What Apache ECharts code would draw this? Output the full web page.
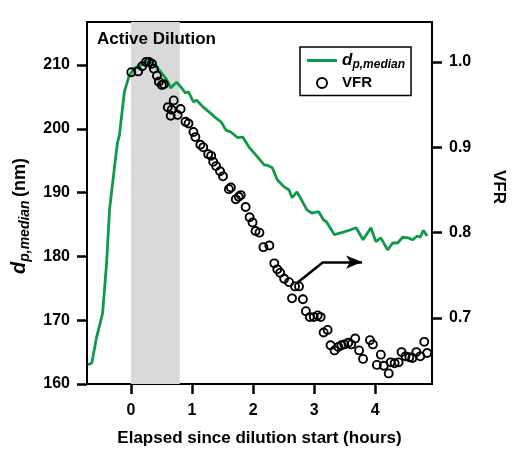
<!DOCTYPE html>
<html>
<head>
<meta charset="utf-8">
<script src="https://cdn.jsdelivr.net/npm/echarts@6/dist/echarts.min.js"></script>
<style>html,body{margin:0;padding:0;background:#fff}#c{width:515px;height:458px}</style>
</head>
<body>
<div id="c"></div>
<script>
// ---- data ----
var dpTime = [-0.705,-0.641,-0.561,-0.464,-0.399,-0.351,-0.270,-0.221,-0.189,-0.108,-0.027,0.053,0.166,0.247,0.328,0.490,0.586,0.651,0.700,0.748,0.813,0.893,0.942,1.023,1.071,1.184,1.297,1.378,1.475,1.555,1.636,1.749,1.830,1.943,2.072,2.185,2.234,2.315,2.396,2.509,2.590,2.638,2.719,2.768,2.881,2.961,3.074,3.155,3.203,3.332,3.478,3.575,3.688,3.801,3.930,4.011,4.092,4.205,4.286,4.367,4.448,4.545,4.609,4.690,4.738,4.787,4.851];
var dpMedian = [163.0,163.3,167.4,171.1,179.0,187.3,194.0,197.8,199.0,205.8,208.4,209.5,210.0,210.5,210.5,208.9,207.7,206.4,206.9,207.3,206.6,205.6,205.8,204.2,204.5,203.4,202.5,201.8,201.1,199.8,199.5,198.6,198.7,197.0,195.6,194.3,194.3,193.9,192.0,190.9,190.4,189.2,190.1,189.3,187.3,186.8,187.0,185.7,185.4,183.4,183.8,184.1,184.5,182.6,184.5,182.3,182.9,181.0,182.1,182.1,183.0,182.9,182.6,183.2,183.0,184.1,183.2];
var vfrTime = [0.005,0.118,0.183,0.247,0.296,0.344,0.376,0.425,0.457,0.506,0.538,0.603,0.651,0.667,0.700,0.764,0.813,0.893,0.942,1.023,1.055,1.136,1.184,1.265,1.313,1.346,1.394,1.459,1.507,1.604,1.636,1.717,1.765,1.798,1.878,1.943,1.991,2.040,2.104,2.169,2.266,2.347,2.396,2.444,2.509,2.590,2.638,2.687,2.752,2.816,2.865,2.929,2.994,3.058,3.107,3.155,3.220,3.268,3.333,3.397,3.446,3.494,3.559,3.607,3.672,3.736,3.801,3.914,3.962,4.027,4.092,4.140,4.221,4.253,4.318,4.383,4.431,4.496,4.560,4.609,4.674,4.738,4.803,4.851];
var vfr = [0.988,0.989,0.995,1.000,1.000,0.998,0.992,0.984,0.977,0.973,0.974,0.947,0.937,0.944,0.955,0.938,0.945,0.930,0.928,0.918,0.912,0.903,0.900,0.892,0.890,0.883,0.878,0.872,0.866,0.851,0.853,0.839,0.842,0.844,0.830,0.818,0.812,0.802,0.800,0.783,0.785,0.764,0.757,0.753,0.746,0.742,0.723,0.737,0.737,0.722,0.708,0.701,0.701,0.703,0.701,0.683,0.686,0.668,0.662,0.666,0.668,0.669,0.671,0.669,0.676,0.662,0.652,0.674,0.669,0.645,0.657,0.644,0.635,0.648,0.647,0.648,0.660,0.655,0.654,0.653,0.660,0.655,0.672,0.659];
var xTicks = [0,1,2,3,4];
var leftTicks = [160,170,180,190,200,210];
var rightTicks = [0.7,0.8,0.9,1.0];
var dilutionPeriod = [0, 0.8];
var arrowPath = [[2.72,0.741],[3.15,0.7655],[3.785,0.7655]];

// ---- chart ----
var FONT = '"Liberation Sans", Arial, sans-serif';
var dpData = dpTime.map(function(t,i){return [t, dpMedian[i]];});
var vfrData = vfrTime.map(function(t,i){return [t, vfr[i]];});
var chart = echarts.init(document.getElementById('c'), null, {renderer:'canvas'});
chart.setOption({
  animation:false,
  backgroundColor:'#fff',
  textStyle:{fontFamily:FONT},
  grid:{left:87, right:78, top:22, bottom:74, show:true, borderColor:'#000', borderWidth:2, backgroundColor:'transparent'},
  xAxis:{
    type:'value', min:-0.72, max:4.93,
    axisLine:{show:true, onZero:false, lineStyle:{color:'#000', width:2}},
    splitLine:{show:false},
    axisTick:{show:true, inside:false, length:10, lineStyle:{color:'#000', width:2.5}, customValues:xTicks},
    axisLabel:{show:true, customValues:xTicks, color:'#000', fontSize:16, fontWeight:'bold', fontFamily:FONT, margin:19},
    name:'Elapsed since dilution start (hours)', nameLocation:'middle', nameGap:46,
    nameTextStyle:{color:'#000', fontSize:17, fontWeight:'bold', fontFamily:FONT}
  },
  yAxis:[{
    type:'value', position:'left', min:160, max:216.74,
    axisLine:{show:true, onZero:false, lineStyle:{color:'#000', width:2}},
    splitLine:{show:false},
    axisTick:{show:true, inside:false, length:10, lineStyle:{color:'#000', width:2.5}, customValues:leftTicks},
    axisLabel:{show:true, customValues:leftTicks, color:'#000', fontSize:16, fontWeight:'bold', fontFamily:FONT, margin:17},
    name:'{d|d}{s|p,median} {n|(nm)}', nameLocation:'middle', nameGap:54, nameRotate:90,
    nameTextStyle:{color:'#000', padding:[0,26,0,0], rich:{
      d:{fontSize:20, fontStyle:'italic', fontWeight:'bold', fontFamily:FONT, color:'#000'},
      s:{fontSize:14, fontStyle:'italic', fontWeight:'bold', fontFamily:FONT, color:'#000', padding:[11,0,0,0]},
      n:{fontSize:18, fontWeight:'bold', fontFamily:FONT, color:'#000'}
    }}
  },{
    type:'value', position:'right', min:0.6226, max:1.0469,
    axisLine:{show:true, onZero:false, lineStyle:{color:'#000', width:2}},
    splitLine:{show:false},
    axisTick:{show:true, inside:false, length:10, lineStyle:{color:'#000', width:2.5}, customValues:rightTicks},
    axisLabel:{show:true, customValues:rightTicks, color:'#000', fontSize:16, fontWeight:'bold', fontFamily:FONT, margin:17,
      formatter:function(v){return v.toFixed(1);}},
    name:'VFR', nameLocation:'middle', nameGap:58, nameRotate:-90,
    nameTextStyle:{color:'#000', fontSize:17, fontWeight:'bold', fontFamily:FONT, padding:[0,32,0,0]}
  }],
  legend:{
    orient:'vertical', left:300, top:47, padding:[5,6,5,7], itemGap:5,
    borderColor:'#000', borderWidth:1.5, backgroundColor:'#fff',
    itemWidth:30, itemHeight:10,
    data:[{name:'dp', icon:'path://M0,0 L30,0 L30,3 L0,3 Z'},{name:'VFR'}],
    formatter:function(n){return n==='dp' ? '{d|d}{s|p,median}' : '{v|VFR}';},
    textStyle:{color:'#000', rich:{
      d:{fontSize:17, fontStyle:'italic', fontWeight:'bold', fontFamily:FONT, color:'#000'},
      s:{fontSize:12, fontStyle:'italic', fontWeight:'bold', fontFamily:FONT, color:'#000', padding:[8,0,0,0]},
      v:{fontSize:15, fontWeight:'bold', fontFamily:FONT, color:'#000'}
    }}
  },
  graphic:[{
    type:'text', left:97, top:31, z:10,
    style:{text:'Active Dilution', fill:'#000', font:'bold 17px "Liberation Sans", Arial, sans-serif'}
  }],
  series:[{
    name:'dp', type:'line', yAxisIndex:0, data:dpData, symbol:'none', showSymbol:false,
    lineStyle:{color:'#0f9a48', width:2.8}, itemStyle:{color:'#0f9a48'}, z:3,
    markArea:{silent:true, itemStyle:{color:'#d9d9d9'}, data:[[{xAxis:dilutionPeriod[0]},{xAxis:dilutionPeriod[1]}]]}
  },{
    name:'VFR', type:'scatter', yAxisIndex:1, data:vfrData, symbol:'circle', symbolSize:8,
    itemStyle:{color:'rgba(255,255,255,0)', borderColor:'#000', borderWidth:1.9, opacity:1}, z:4,
    markLine:{silent:true, symbol:['none','none'], label:{show:false},
      lineStyle:{color:'#000', width:2.5, type:'solid'},
      data:[
        [{coord:arrowPath[0], symbol:'none'},{coord:arrowPath[1], symbol:'none'}],
        [{coord:arrowPath[1], symbol:'none'},{coord:arrowPath[2], symbol:'arrow', symbolSize:[10,16]}]
      ]}
  }]
});
</script>
</body>
</html>
